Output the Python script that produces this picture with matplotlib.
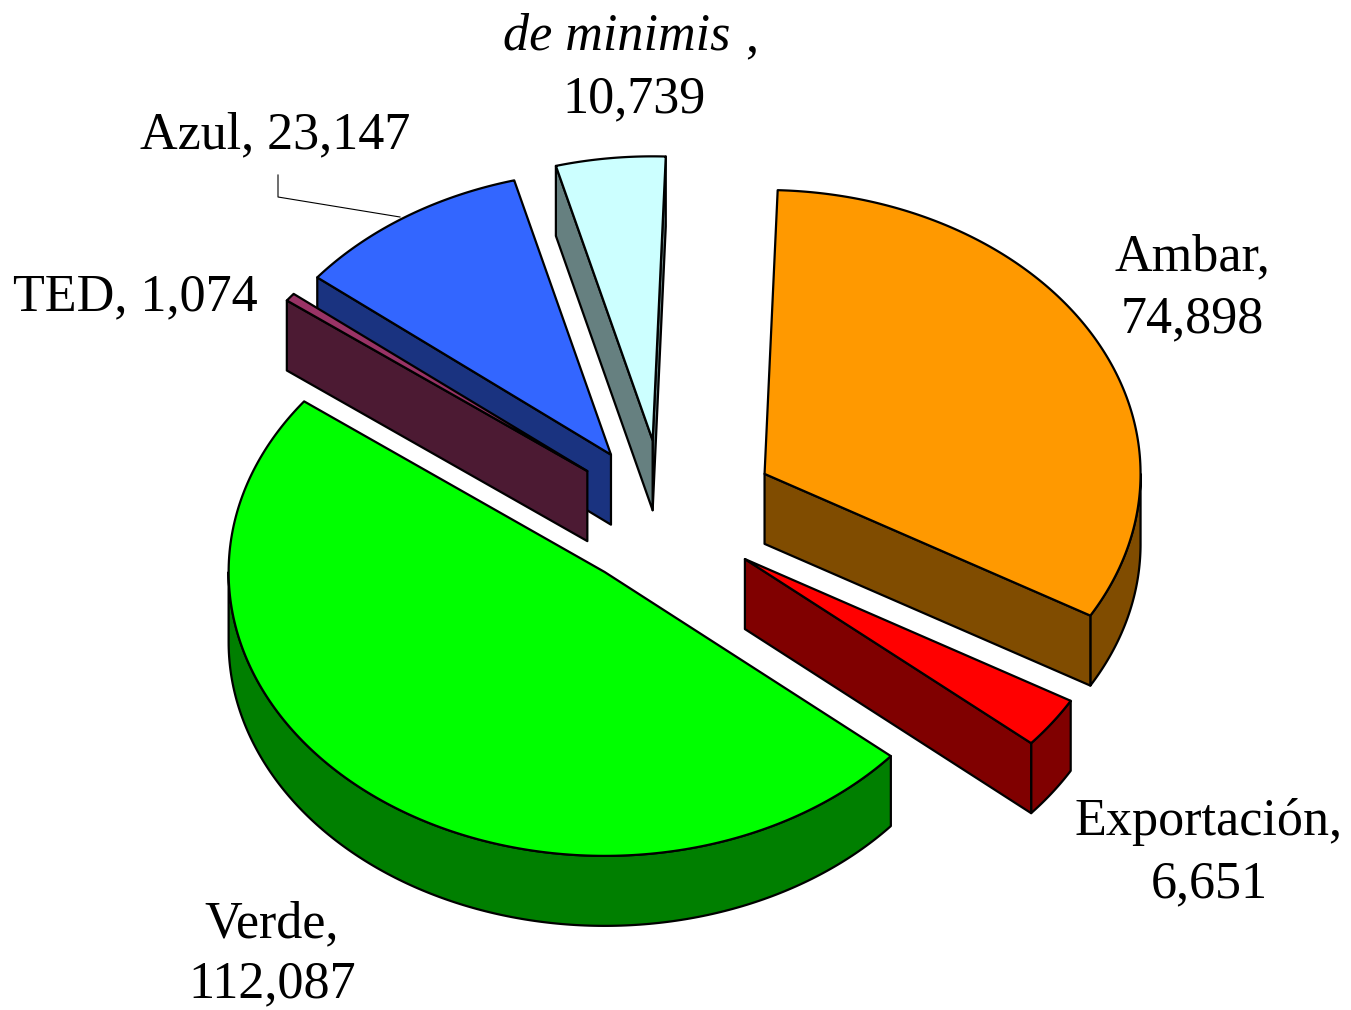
import numpy as np
import matplotlib
matplotlib.use("Agg")
import matplotlib.pyplot as plt
from matplotlib.patches import Polygon

# ---- data ----
categories = ["Ambar", "Exportación", "Verde", "TED", "Azul", "de minimis"]
values = [74898, 6651, 112087, 1074, 23147, 10739]

# ---- style ----
top_colors = ["#FF9900", "#FF0000", "#00FF00", "#993366", "#3366FF", "#CCFFFF"]
side_colors = ["#804C00", "#800000", "#007F00", "#4C1A33", "#1A3380", "#668080"]
explode = [115, 99, 95, 97, 97, 101]   # explode distance (px units)

W, H = 1351, 1010
fig = plt.figure(figsize=(W / 100, H / 100), dpi=100)
ax = fig.add_axes([0, 0, 1, 1])
ax.set_xlim(0, W)
ax.set_ylim(H, 0)
ax.axis("off")

CX, CY = 664, 516      # pie centre (screen px)
R = 376                # horizontal radius
RY = 0.755             # vertical squash of the tilted pie
DEPTH = 70             # thickness
START = 88             # start angle (deg), clockwise
LW = 1.6

vals = np.asarray(values, float)
frac = vals / vals.sum()
ends = START - 360 * np.cumsum(frac)
starts = np.concatenate([[START], ends[:-1]])


def rim(px, py, th, z=0.0):
    t = np.radians(th)
    return px + R * np.cos(t), py - R * RY * np.sin(t) + z


def arc(px, py, a, b, z=0.0, n=200):
    th = np.linspace(a, b, n)
    t = np.radians(th)
    return np.column_stack([px + R * np.cos(t), py - R * RY * np.sin(t) + z])


centres = []
for i in range(len(values)):
    m = np.radians((starts[i] + ends[i]) / 2)
    centres.append((CX + explode[i] * np.cos(m), CY - explode[i] * RY * np.sin(m)))

order = sorted(range(len(values)), key=lambda i: centres[i][1])
zo = 1
for i in order:
    px, py = centres[i]
    t1, t2 = ends[i], starts[i]          # ccw interval [t1, t2]
    faces = []
    # outer curved surface (front half only)
    for k in range(-2, 3):
        lo = max(t1, -180 + 360 * k)
        hi = min(t2, 0 + 360 * k)
        if hi > lo + 1e-9:
            top = arc(px, py, lo, hi)
            bot = arc(px, py, hi, lo, DEPTH)
            faces.append(np.vstack([top, bot]))
    # radial walls
    if np.cos(np.radians(t1)) > 0:
        a = rim(px, py, t1)
        b = rim(px, py, t1, DEPTH)
        faces.append(np.array([(px, py), a, b, (px, py + DEPTH)]))
    if np.cos(np.radians(t2)) < 0:
        a = rim(px, py, t2)
        b = rim(px, py, t2, DEPTH)
        faces.append(np.array([(px, py), a, b, (px, py + DEPTH)]))
    for f in faces:
        ax.add_patch(Polygon(f, closed=True, facecolor=side_colors[i],
                             edgecolor="black", lw=LW, joinstyle="round", zorder=zo))
        zo += 1
    topface = np.vstack([[(px, py)], arc(px, py, t2, t1)])
    ax.add_patch(Polygon(topface, closed=True, facecolor=top_colors[i],
                         edgecolor="black", lw=LW, joinstyle="round", zorder=zo))
    zo += 1

# ---- labels ----
FONT = "Liberation Serif"
FS = 37.5
tk = dict(family=FONT, fontsize=FS, color="black", va="baseline", zorder=50)

lab = dict(zip(categories, values))

# de minimis (italic name)
ax.text(730, 50, categories[5], ha="right", style="italic", **tk)
ax.text(745, 50, ",", ha="left", **tk)
ax.text(634, 112, f"{lab['de minimis']:,}", ha="center", **tk)

# Azul with leader line
ax.text(140, 148, f"Azul, {lab['Azul']:,}", ha="left", **tk)
ax.plot([278, 278, 400], [175, 197, 217], color="black", lw=0.8, zorder=49)

# TED
ax.text(13, 310, f"TED, {lab['TED']:,}", ha="left", **tk)

# Ambar
ax.text(1192, 270, "Ambar,", ha="center", **tk)
ax.text(1192, 332, f"{lab['Ambar']:,}", ha="center", **tk)

# Exportación
ax.text(1209, 835, "Exportación,", ha="center", **tk)
ax.text(1209, 897, f"{lab['Exportación']:,}", ha="center", **tk)

# Verde
ax.text(272, 937, "Verde,", ha="center", **tk)
ax.text(272, 997, f"{lab['Verde']:,}", ha="center", **tk)

fig.savefig("out.png", dpi=100, facecolor="white")
